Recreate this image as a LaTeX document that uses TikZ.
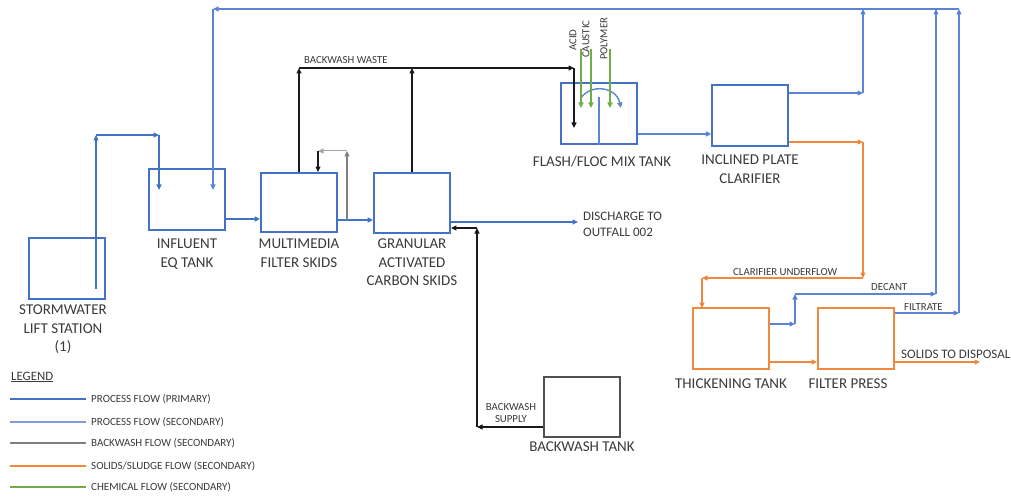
\documentclass[tikz,border=0pt]{standalone}
\usepackage{fontspec}
\setmainfont{Carlito}
\usetikzlibrary{arrows.meta}
\definecolor{bP}{HTML}{4472C4}
\definecolor{bS}{HTML}{5B84D6}
\definecolor{og}{HTML}{F0883E}
\definecolor{gr}{HTML}{70AD47}
\definecolor{tx}{HTML}{3A3A3A}
\definecolor{bk}{HTML}{1A1A1A}
\definecolor{lg}{HTML}{A6A6A6}
\definecolor{gy}{HTML}{808080}
\definecolor{bx}{HTML}{505050}
\begin{document}
\begin{tikzpicture}[x=1pt,y=-1pt,>={Triangle[length=5.5pt,width=5pt]},
  box/.style={draw=bP,line width=1.8pt,inner sep=0,minimum width=76pt,minimum height=61pt},
  thinbox/.style={box,line width=1.3pt},
  obox/.style={box,draw=og},
  gbox/.style={box,draw=bx,line width=1.5pt},
  prim/.style={draw=bP,line width=2.2pt},
  sec/.style={draw=bS,line width=1.4pt},
  sludge/.style={draw=og,line width=1.4pt},
  bw/.style={draw=bk,line width=1.2pt},
  bwl/.style={draw=lg,line width=1pt},
  chem/.style={draw=gr,line width=1.4pt},
  lab/.style={text=tx,font=\fontsize{15}{18.3}\selectfont,align=center,inner sep=0,anchor=north},
  mlab/.style={text=tx,font=\fontsize{13}{16}\selectfont,align=left,inner sep=0,anchor=north west},
  slab/.style={text=tx,font=\fontsize{10.8}{12}\selectfont,align=center,inner sep=0},
  leg/.style={text=tx,font=\fontsize{11}{13}\selectfont,inner sep=0,anchor=west}]
\useasboundingbox (0,0) rectangle (1011,497);

% ---------- boxes ----------
\node[box,minimum height=61pt] (sw) at (67,268.5) {};
\node[box] (eq) at (187,199.5) {};
\node[box,minimum height=59pt] (mm) at (299,202.5) {};
\node[box,minimum height=60pt] (gac) at (412,203) {};
\node[thinbox] (flash) at (599,113.5) {};
\node[thinbox] (clar) at (750,115.5) {};
\node[obox] (thick) at (731,338.5) {};
\node[obox] (fp) at (856,338.5) {};
\node[gbox,minimum height=60pt] (bwt) at (582,407) {};

% ---------- labels ----------
\node[lab] (swl) at (63,305) {STORMWATER\\LIFT STATION\\(1)};
\node[lab] (eql) at (187,239) {INFLUENT\\EQ TANK};
\node[lab] (mml) at (299,239) {MULTIMEDIA\\FILTER SKIDS};
\node[lab] (gacl) at (412,239) {GRANULAR\\ACTIVATED\\CARBON SKIDS};
\node[lab] (flashl) at (602,156) {FLASH/FLOC MIX TANK};
\node[lab] (clarl) at (750,155) {INCLINED PLATE\\CLARIFIER};
\node[lab] (thickl) at (731,379) {THICKENING TANK};
\node[lab] (fpl) at (848,379) {FILTER PRESS};
\node[lab] (bwtl) at (582,442) {BACKWASH TANK};
\node[mlab] (dis) at (583,211.5) {DISCHARGE TO\\OUTFALL 002};
\node[mlab] (sol) at (901,349.5) {SOLIDS TO DISPOSAL};
\node[slab,anchor=north west] (bwwl) at (304,56) {BACKWASH WASTE};
\node[slab,anchor=north west] (cul) at (733,268) {CLARIFIER UNDERFLOW};
\node[slab,anchor=north west] (decl) at (871,283) {DECANT};
\node[slab,anchor=north west] (fill) at (904,303) {FILTRATE};
\node[slab,anchor=north] (bwsl) at (511,403) {BACKWASH\\SUPPLY};
\node[slab,rotate=90,anchor=west] (acid) at (573,51) {ACID};
\node[slab,rotate=90,anchor=west] (caus) at (586,58) {CAUSTIC};
\node[slab,rotate=90,anchor=west] (poly) at (604,60) {POLYMER};

% ---------- coordinates ----------
\coordinate (p1) at (96,289);
\coordinate (p2) at (96,135);
\coordinate (p3) at (159,135);
\coordinate (p4) at (159,190);
\coordinate (t0) at (959,9);
\coordinate (t1) at (213,9);
\coordinate (t2) at (213,190);
\coordinate (ct) at (863,9);
\coordinate (cb) at (863,93);
\coordinate (dt) at (936,9);
\coordinate (d1) at (795,324);
\coordinate (d2) at (795,294);
\coordinate (d3) at (936,294);
\coordinate (ft) at (959,313);
\coordinate (o1) at (863,142);
\coordinate (o2) at (863,278);
\coordinate (o3) at (702,278);
\coordinate (o4) at (702,308);
\coordinate (se) at (980,362);
\coordinate (de) at (578,222);
\coordinate (w1) at (299,68);
\coordinate (w2) at (412,68);
\coordinate (w3) at (574,68);
\coordinate (w4) at (574,128);
\coordinate (l1) at (347,220);
\coordinate (l2) at (347,151);
\coordinate (l3) at (318,151);
\coordinate (s1) at (477,427);
\coordinate (s2) at (477,228);
\coordinate (g1) at (581,49);
\coordinate (g2) at (591,49);
\coordinate (g3) at (610,49);
\coordinate (k1) at (581,98);
\coordinate (k2) at (621,108);

% ---------- primary process ----------
\draw[prim] (p1) edge[->] (p2) (p2) edge[->] (p3) (p3) edge[->] (p4);
\draw[prim,->] ([yshift=-19.5pt]eq.east) -- ([yshift=-16.5pt]mm.west);
\draw[prim,->] ([yshift=-17.5pt]mm.east) -- ([yshift=-17pt]gac.west);
\draw[prim,->] ([yshift=-19pt]gac.east) -- (de);

% ---------- secondary process ----------
\draw[sec,->] (t0) -- (t1);
\draw[sec,->] (t1) -- (t2);
\draw[sec] ([yshift=22.5pt]clar.east) edge[->] (cb) (cb) edge[->] (ct);
\draw[sec] ([yshift=14.5pt]thick.east) edge[->] (d1) (d1) edge[->] (d2) (d2) edge[->] (d3) (d3) edge[->] (dt);
\draw[sec] ([yshift=25.5pt]fp.east) edge[->] (ft) (ft) edge[->] (t0);
\draw[sec,->] ([yshift=-20.5pt]flash.east) -- ([yshift=-18.5pt]clar.west);
\draw[sec] (flash.south) -- ++(0,-48);
\draw[sec,->] (k1) .. controls (590,84) and (616,86) .. (k2);

% ---------- sludge ----------
\draw[sludge] ([yshift=-26.5pt]clar.east) edge[->] (o1) (o1) edge[->] (o2) (o2) edge[->] (o3) (o3) edge[->] (o4);
\draw[sludge,->] ([yshift=-23.5pt]thick.east) -- ([yshift=-23.5pt]fp.west);
\draw[sludge,->] ([yshift=-23.5pt]fp.east) -- (se);

% ---------- backwash ----------
\draw[bw,->] (mm.north) -- (w1);
\draw[bw,->] (gac.north) -- (w2);
\draw[bw] (w1) edge[->] (w3) (w3) edge[->] (w4);
\draw[bw,gy,->] (l1) -- (l2);
\draw[bwl,->] (l2) -- (l3);
\draw[bw,->] (l3) -- (l3 |- mm.north);
\draw[bw] ([yshift=-20pt]bwt.west) edge[->] (s1) (s1) edge[->] (s2) (s2) edge[->] ([yshift=-25pt]gac.east);

% ---------- chemicals ----------
\draw[chem,->] (g1) -- ++(0,59);
\draw[chem,->] (g2) -- ++(0,59);
\draw[chem,->] (g3) -- ++(0,59);

% ---------- legend ----------
\node[text=tx,font=\fontsize{12.8}{14}\selectfont,inner sep=0,anchor=west] (legt) at (11,377) {\underline{LEGEND}};
\coordinate (la1) at (10,399); \coordinate (la2) at (10,422); \coordinate (la3) at (10,443);
\coordinate (la4) at (10,466); \coordinate (la5) at (10,487);
\node[leg] (lt1) at (91,399) {PROCESS FLOW (PRIMARY)};
\node[leg] (lt2) at (91,422) {PROCESS FLOW (SECONDARY)};
\node[leg] (lt3) at (91,443) {BACKWASH FLOW (SECONDARY)};
\node[leg] (lt4) at (91,466) {SOLIDS/SLUDGE FLOW (SECONDARY)};
\node[leg] (lt5) at (91,487) {CHEMICAL FLOW (SECONDARY)};
\draw[prim,line width=2.6pt] (la1) -- ([xshift=-5pt]lt1.west);
\draw[sec,draw=bS!80,line width=1.6pt] (la2) -- ([xshift=-5pt]lt2.west);
\draw[draw=gy,line width=1.3pt] (la3) -- ([xshift=-5pt]lt3.west);
\draw[sludge] (la4) -- ([xshift=-5pt]lt4.west);
\draw[chem,line width=1.8pt] (la5) -- ([xshift=-5pt]lt5.west);
\end{tikzpicture}
\end{document}
